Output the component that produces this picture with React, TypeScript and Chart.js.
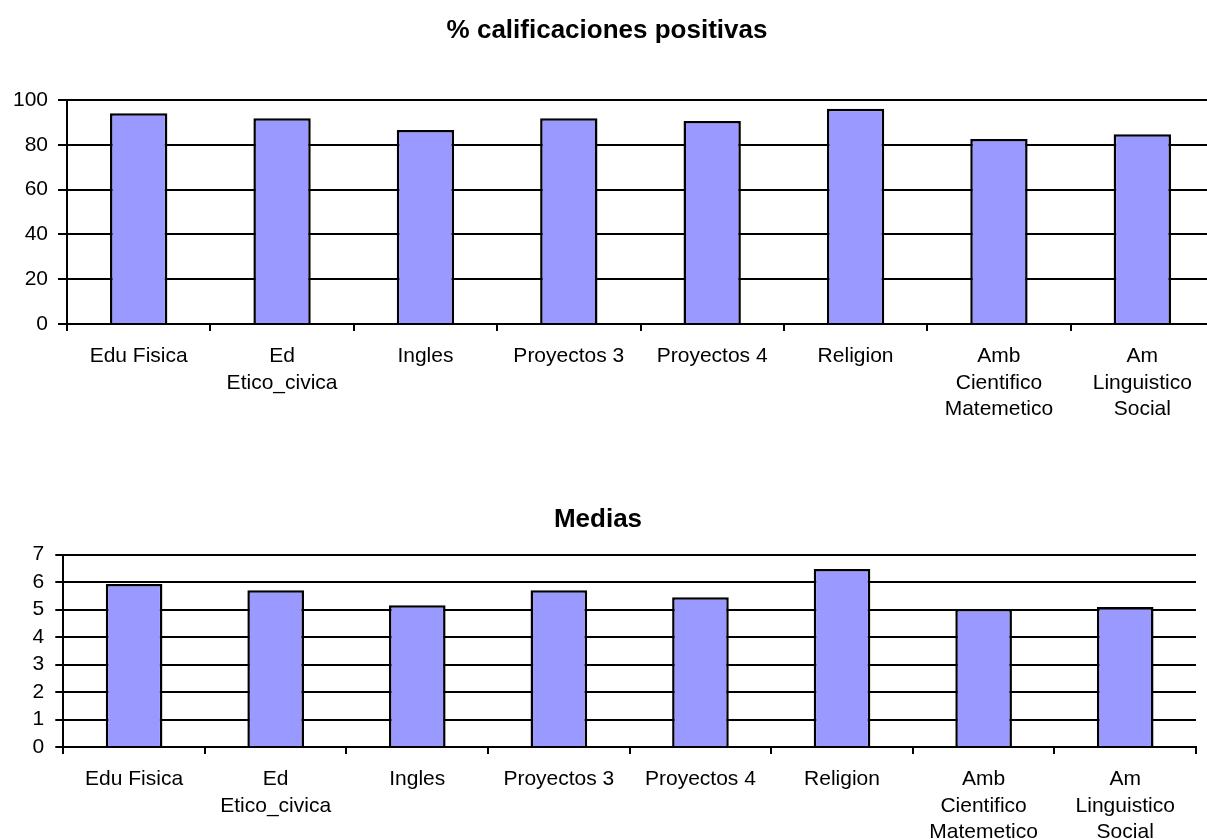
import React, { useEffect, useRef } from "react";
import { Chart, registerables } from "chart.js";

Chart.register(...registerables);

const categories: (string | string[])[] = [
  "Edu Fisica",
  ["Ed", "Etico_civica"],
  "Ingles",
  "Proyectos 3",
  "Proyectos 4",
  "Religion",
  ["Amb", "Cientifico", "Matemetico"],
  ["Am", "Linguistico", "Social"],
];

const positivePct = [94.1, 91.8, 86.6, 91.8, 90.6, 96.1, 82.6, 84.7];
const means = [5.93, 5.71, 5.16, 5.71, 5.45, 6.48, 5.02, 5.1];

const topTitle = "% calificaciones positivas";
const bottomTitle = "Medias";

const FONT = "'Liberation Sans', Arial, sans-serif";

type Cfg = {
  title: string;
  data: number[];
  max: number;
  step: number;
  axisWidth: number;
  yTickLen: number;
  yPad: number;
  titlePadTop: number;
  titlePadBottom: number;
  xHeight: number;
  padRight: number;
};

function makeChart(canvas: HTMLCanvasElement, c: Cfg) {
  return new Chart(canvas, {
    type: "bar",
    data: {
      labels: categories,
      datasets: [
        {
          data: c.data,
          backgroundColor: "#9999FF",
          borderColor: "#000000",
          borderWidth: 2.5,
          barPercentage: 0.4,
          categoryPercentage: 1,
        },
      ],
    },
    options: {
      responsive: false,
      animation: false,
      layout: { padding: { left: 0, right: c.padRight, top: 0, bottom: 0 } },
      plugins: {
        legend: { display: false },
        tooltip: { enabled: false },
        title: {
          display: true,
          text: c.title,
          color: "#000",
          font: { family: FONT, size: 26, weight: "bold", lineHeight: 1.2 },
          padding: { top: c.titlePadTop, bottom: c.titlePadBottom },
        },
      },
      scales: {
        x: {
          grid: {
            offset: true,
            drawOnChartArea: false,
            drawTicks: true,
            tickLength: 7,
            color: "#000",
            lineWidth: 2,
          },
          border: { display: true, color: "#000", width: 2 },
          ticks: {
            color: "#000",
            autoSkip: false,
            maxRotation: 0,
            minRotation: 0,
            padding: 12,
            font: { family: FONT, size: 21, lineHeight: 1.27 },
          },
          afterFit: (s: any) => {
            s.height = c.xHeight;
          },
        },
        y: {
          min: 0,
          max: c.max,
          ticks: {
            stepSize: c.step,
            autoSkip: false,
            color: "#000",
            padding: c.yPad,
            font: { family: FONT, size: 21 },
          },
          grid: {
            drawOnChartArea: true,
            drawTicks: true,
            tickLength: c.yTickLen,
            color: "#000",
            lineWidth: 2,
          },
          border: { display: true, color: "#000", width: 2 },
          afterFit: (s: any) => {
            s.width = c.axisWidth;
          },
        },
      },
    },
  });
}

export default function App() {
  const topRef = useRef<HTMLCanvasElement>(null);
  const botRef = useRef<HTMLCanvasElement>(null);

  useEffect(() => {
    const a = makeChart(topRef.current!, {
      title: topTitle,
      data: positivePct,
      max: 100,
      step: 20,
      axisWidth: 67,
      yTickLen: 9,
      yPad: 10,
      titlePadTop: 15,
      titlePadBottom: 53.8,
      xHeight: 110,
      padRight: 0,
    });
    const b = makeChart(botRef.current!, {
      title: bottomTitle,
      data: means,
      max: 7,
      step: 1,
      axisWidth: 63.3,
      yTickLen: 8,
      yPad: 11,
      titlePadTop: 33.9,
      titlePadBottom: 19.6,
      xHeight: 100,
      padRight: 4,
    });
    return () => {
      a.destroy();
      b.destroy();
    };
  }, []);

  return (
    <div
      style={{
        position: "absolute",
        left: 0,
        top: 0,
        width: 1207,
        height: 839,
        overflow: "hidden",
        background: "#fff",
      }}
    >
      <canvas
        ref={topRef}
        width={1214}
        height={434}
        style={{ position: "absolute", left: 0, top: 0 }}
      />
      <canvas
        ref={botRef}
        width={1200}
        height={377}
        style={{ position: "absolute", left: 0, top: 470 }}
      />
    </div>
  );
}
